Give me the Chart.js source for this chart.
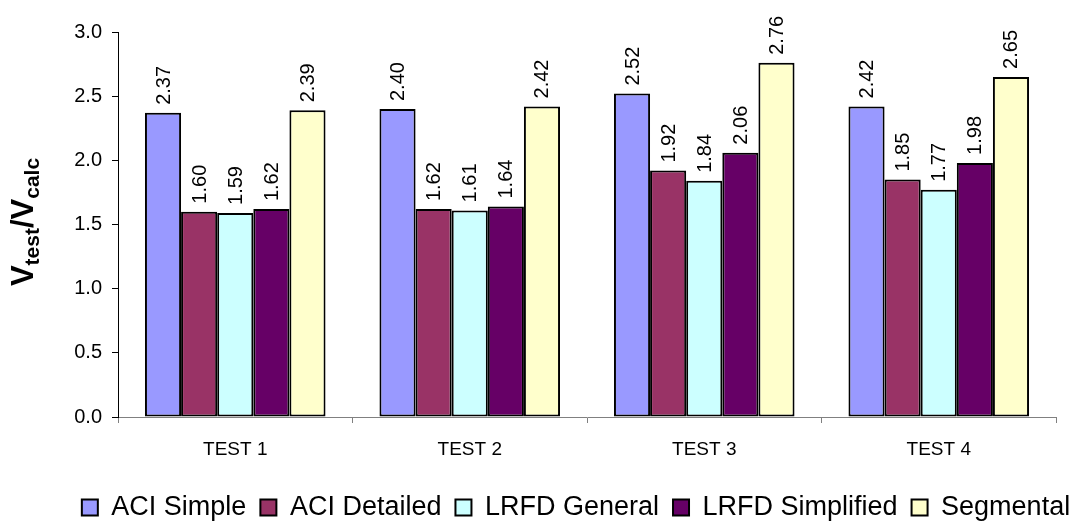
<!DOCTYPE html>
<html>
<head>
<meta charset="utf-8">
<script src="https://cdn.jsdelivr.net/npm/chart.js@4/dist/chart.umd.min.js"></script>
<style>
  html, body { margin: 0; padding: 0; background: #fff; }
  #wrap { width: 1090px; height: 521px; }
</style>
</head>
<body>
<div id="wrap"><canvas id="ratioChart" width="1090" height="521"></canvas></div>
<script>
// chart data
const tests = ["TEST 1", "TEST 2", "TEST 3", "TEST 4"];
const aciSimple = [2.37, 2.40, 2.52, 2.42];
const aciDetailed = [1.60, 1.62, 1.92, 1.85];
const lrfdGeneral = [1.59, 1.61, 1.84, 1.77];
const lrfdSimplified = [1.62, 1.64, 2.06, 1.98];
const segmental = [2.39, 2.42, 2.76, 2.65];

const FONT = "'Liberation Sans', Arial, sans-serif";

// value labels, rotated, above each bar
const barLabels = {
    id: "barLabels",
    afterDatasetsDraw(chart) {
        const ctx = chart.ctx;
        ctx.save();
        ctx.fillStyle = "#000";
        ctx.font = "20px " + FONT;
        ctx.textAlign = "left";
        ctx.textBaseline = "middle";
        chart.data.datasets.forEach((ds, i) => {
            chart.getDatasetMeta(i).data.forEach((bar, j) => {
                ctx.save();
                ctx.translate(bar.x + 1, bar.y - 8);
                ctx.rotate(-Math.PI / 2);
                ctx.fillText(ds.data[j].toFixed(2), 0, 0);
                ctx.restore();
            });
        });
        ctx.restore();
    }
};

// y axis title with subscripts: V_test / V_calc
const yTitle = {
    id: "yTitle",
    afterDraw(chart) {
        const ctx = chart.ctx;
        const parts = [
            { t: "V", big: true },
            { t: "test", big: false },
            { t: "/V", big: true },
            { t: "calc", big: false }
        ];
        const bigFont = "bold 31px " + FONT;
        const smallFont = "bold 21px " + FONT;
        ctx.save();
        let total = 0;
        parts.forEach(p => {
            ctx.font = p.big ? bigFont : smallFont;
            p.w = ctx.measureText(p.t).width;
            total += p.w;
        });
        ctx.translate(33, 222);
        ctx.rotate(-Math.PI / 2);
        ctx.fillStyle = "#000";
        ctx.textBaseline = "alphabetic";
        ctx.textAlign = "left";
        let x = -total / 2;
        parts.forEach(p => {
            ctx.font = p.big ? bigFont : smallFont;
            ctx.fillText(p.t, x, p.big ? 0 : 6);
            x += p.w;
        });
        ctx.restore();
    }
};

function makeSet(label, data, color) {
    return {
        label,
        data,
        backgroundColor: color,
        borderColor: "#000",
        borderWidth: 2,
        borderSkipped: false,
        categoryPercentage: 0.77,
        barPercentage: 1.0
    };
}

new Chart(document.getElementById("ratioChart"), {
    type: "bar",
    data: {
        labels: tests,
        datasets: [
            makeSet("ACI Simple", aciSimple, "#9999FF"),
            makeSet("ACI Detailed", aciDetailed, "#993366"),
            makeSet("LRFD General", lrfdGeneral, "#CCFFFF"),
            makeSet("LRFD Simplified", lrfdSimplified, "#660066"),
            makeSet("Segmental", segmental, "#FFFFCC")
        ]
    },
    options: {
        responsive: false,
        animation: false,
        layout: { padding: { left: 62, right: 0, top: 32, bottom: -10 } },
        scales: {
            x: {
                grid: {
                    offset: true,
                    drawOnChartArea: false,
                    drawTicks: true,
                    tickLength: 6,
                    color: "#808080"
                },
                border: { color: "#808080", width: 1 },
                ticks: {
                    color: "#000",
                    font: { family: FONT, size: 19 },
                    padding: 15,
                    maxRotation: 0
                },
                afterFit: s => { s.height = 63; }
            },
            y: {
                min: 0,
                max: 3,
                grid: {
                    drawOnChartArea: false,
                    drawTicks: true,
                    tickLength: 6,
                    color: "#000"
                },
                border: { color: "#000", width: 1 },
                ticks: {
                    stepSize: 0.5,
                    color: "#000",
                    font: { family: FONT, size: 20 },
                    padding: 10,
                    callback: v => v.toFixed(1)
                },
                afterFit: s => { s.width = 56; }
            },
            // empty right margin so the legend sits where it does in the original
            spacer: {
                type: "linear",
                position: "right",
                grid: { display: false },
                border: { display: false },
                ticks: { display: false },
                afterFit: s => { s.width = 34; }
            }
        },
        plugins: {
            legend: {
                position: "bottom",
                labels: {
                    color: "#000",
                    font: { family: FONT, size: 27 },
                    boxWidth: 16,
                    boxHeight: 16,
                    padding: 14
                }
            },
            tooltip: { enabled: false }
        }
    },
    plugins: [barLabels, yTitle]
});
</script>
</body>
</html>
